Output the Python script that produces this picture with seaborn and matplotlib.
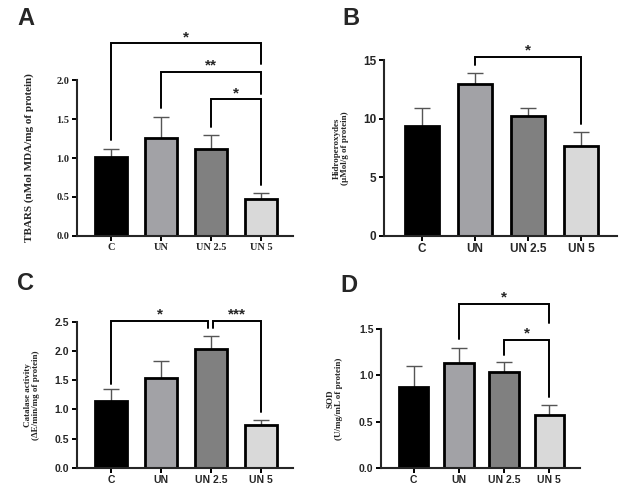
import matplotlib
matplotlib.use("Agg")
import matplotlib.pyplot as plt
import seaborn as sns
import pandas as pd
import numpy as np

sns.set_theme(style="ticks")
plt.rcParams['font.family'] = ['Liberation Sans', 'DejaVu Sans']

categories = ["C", "UN", "UN 2.5", "UN 5"]
colors = ["#000000", "#a2a2a6", "#808080", "#d9d9d9"]

tbars_mean = [1.01, 1.26, 1.11, 0.47]
tbars_err = [0.10, 0.27, 0.19, 0.08]

hidro_mean = [9.4, 12.95, 10.25, 7.7]
hidro_err = [1.55, 0.95, 0.7, 1.15]

cat_mean = [1.15, 1.54, 2.03, 0.74]
cat_err = [0.2, 0.29, 0.23, 0.08]

sod_mean = [0.87, 1.14, 1.04, 0.57]
sod_err = [0.23, 0.16, 0.11, 0.11]

# brackets: (i, j, height, left leg bottom, right leg bottom, label)
brackets_A = [(0, 3, 2.48, 1.23, 2.21, "*"),
              (1, 3, 2.11, 1.64, 1.83, "**"),
              (2, 3, 1.755, 1.40, 0.65, "*")]
brackets_B = [(1, 3, 15.3, 14.55, 9.55, "*")]
brackets_C = [(0, 2, 2.52, 1.43, 2.39, "*"),
              (2, 3, 2.52, 2.39, 0.96, "***")]
brackets_D = [(1, 3, 1.775, 1.40, 1.565, "*"),
              (2, 3, 1.39, 1.22, 0.77, "*")]

SERIF = ['Liberation Serif', 'DejaVu Serif']
SANS = ['Liberation Sans', 'DejaVu Sans']

fig = plt.figure(figsize=(6.24, 4.9), dpi=100)

def panel(rect, means, errs, ylim, ybound, yticks, yfmt, ylabel, ylab_size,
          tickfam, ticksize, xlim, width, brackets, letter, letter_pos, ylab_x,
          gap_offset=0.0):
    ax = fig.add_axes(rect)
    df = pd.DataFrame({"group": categories, "value": means})
    sns.barplot(data=df, x="group", y="value", hue="group", palette=colors,
                order=categories, hue_order=categories, legend=False,
                errorbar=None, width=width, edgecolor="black", linewidth=2.0,
                saturation=1, ax=ax, zorder=2)
    xs = np.arange(len(categories))
    eb = ax.errorbar(xs, means, yerr=[np.zeros(len(errs)), errs], fmt="none",
                     ecolor="#555555", elinewidth=1.0, capsize=6, capthick=1.0,
                     zorder=1)
    caps = eb[1]
    if len(caps) >= 2:
        caps[0].set_visible(False)
    ax.set_xlim(*xlim)
    ax.set_ylim(*ylim)
    ax.spines['top'].set_visible(False)
    ax.spines['right'].set_visible(False)
    ax.spines['left'].set_bounds(*ybound)
    ax.spines['left'].set_linewidth(1.5)
    ax.spines['bottom'].set_linewidth(1.5)
    ax.set_yticks(yticks)
    ax.set_yticklabels([yfmt.format(v) for v in yticks], family=tickfam,
                       fontsize=ticksize, fontweight="bold")
    ax.set_xticks(xs)
    ax.set_xticklabels(categories, family=tickfam, fontsize=ticksize,
                       fontweight="bold")
    ax.tick_params(axis='both', direction='out', length=3.5, width=1.4,
                   color='black', pad=2)
    ax.set_xlabel("")
    ax.set_ylabel(ylabel, family=SERIF, fontsize=ylab_size, fontweight="bold",
                  linespacing=1.05)
    ax.yaxis.set_label_coords(ylab_x, 0.5 * ybound[1] / ylim[1])
    ax.patch.set_alpha(0)
    for (i, j, h, lb, rb, lab) in brackets:
        xi = i + (gap_offset if (i == 2 and gap_offset) else 0)
        xj = j - (gap_offset if (j == 2 and gap_offset) else 0)
        ax.plot([xi, xi, xj, xj], [lb, h, h, rb], color="black", lw=1.4,
                clip_on=False, solid_joinstyle="miter", zorder=3)
        ax.annotate(lab, ((xi + xj) / 2, h), xytext=(0, 1.5),
                    textcoords="offset points", ha="center", va="baseline",
                    fontsize=11, fontweight="bold", family=SANS,
                    annotation_clip=False)
    fig.text(letter_pos[0], letter_pos[1], letter, fontsize=17,
             fontweight="bold", family=SANS, ha="left", va="top")
    return ax

panel([0.1234, 0.519, 0.346, 0.428], tbars_mean, tbars_err, (0, 2.7), (0, 2.0),
      [0, 0.5, 1.0, 1.5, 2.0], "{:.1f}", "TBARS (nMol MDA/mg of protein)", 8,
      SERIF, 7.5, (-0.68, 3.64), 0.64, brackets_A, "A", (0.028, 0.985), -0.2)

panel([0.615, 0.519, 0.373, 0.394], hidro_mean, hidro_err, (0, 16.5), (0, 15),
      [0, 5, 10, 15], "{:.0f}", "Hidroperoxydes\n(µMol/g of protein)", 6.5,
      SANS, 8.5, (-0.72, 3.67), 0.64, brackets_B, "B", (0.548, 0.985), -0.15)

panel([0.1234, 0.0455, 0.346, 0.351], cat_mean, cat_err, (0, 2.95), (0, 2.5),
      [0, 0.5, 1.0, 1.5, 2.0, 2.5], "{:.1f}",
      "Catalase activity\n(ΔE/min/mg of protein)", 6.5,
      SANS, 7.5, (-0.68, 3.64), 0.64, brackets_C, "C", (0.028, 0.445), -0.17,
      gap_offset=0.05)

panel([0.6106, 0.0455, 0.319, 0.367], sod_mean, sod_err, (0, 1.95), (0, 1.5),
      [0, 0.5, 1.0, 1.5], "{:.1f}", "SOD\n(U/mg/mL of protein)", 6.5,
      SANS, 7.5, (-0.72, 3.68), 0.65, brackets_D, "D", (0.545, 0.44), -0.19)

fig.savefig("out.png", dpi=100)
